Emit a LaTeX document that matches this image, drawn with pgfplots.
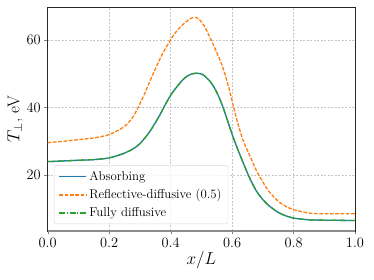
\documentclass[border=0pt]{standalone}
\usepackage{pgfplots}
\pgfplotsset{compat=1.18}
\definecolor{tabblue}{HTML}{1F77B4}
\definecolor{taborange}{HTML}{FF7F0E}
\definecolor{tabgreen}{HTML}{2CA02C}
\pgfplotstableread{
x y
0.00 24.0
0.05 24.2
0.10 24.4
0.15 24.6
0.20 25.1
0.25 26.5
0.28 27.9
0.30 29.3
0.33 32.6
0.36 37.0
0.40 43.6
0.44 48.2
0.465 49.8
0.485 50.1
0.505 49.7
0.53 47.5
0.55 44.5
0.57 40.2
0.59 34.8
0.61 29.6
0.635 23.9
0.66 18.6
0.68 15.2
0.70 12.8
0.72 11.0
0.75 9.0
0.78 7.8
0.80 7.3
0.85 6.8
0.90 6.7
1.00 6.6
}\absorbing
\pgfplotstableread{
x y
0.00 29.6
0.05 30.0
0.10 30.5
0.15 31.0
0.20 32.0
0.25 34.4
0.28 37.6
0.31 43.0
0.34 49.3
0.37 55.2
0.40 60.0
0.42 62.6
0.44 64.5
0.46 66.0
0.475 66.6
0.49 66.3
0.51 64.0
0.53 60.3
0.55 56.3
0.57 51.8
0.585 47.3
0.60 42.0
0.615 36.5
0.635 30.5
0.66 25.3
0.68 21.2
0.70 18.0
0.72 15.2
0.75 12.3
0.78 10.5
0.80 9.8
0.85 8.8
0.90 8.6
1.00 8.6
}\reflective
\begin{document}
\begin{tikzpicture}
\useasboundingbox (-47.7pt,-49pt) rectangle (326.3pt,231pt);
\begin{axis}[
  scale only axis,
  width=307.3pt, height=223.7pt,
  xmin=0, xmax=1, ymin=3.5, ymax=69.6,
  xtick={0,0.2,0.4,0.6,0.8,1.0},
  ytick={20,40,60},
  xticklabel style={/pgf/number format/fixed,/pgf/number format/fixed zerofill,/pgf/number format/precision=1},
  tick label style={font=\fontsize{15}{17}\selectfont},
  tick pos=left, tick align=outside,
  major tick length=3.5pt,
  grid=major,
  grid style={gray!45, line width=0.45pt, dash pattern=on 2pt off 1.5pt},
  axis line style={black!85, line width=0.8pt},
  xlabel={$x/L$}, ylabel={$T_\perp$, eV},
  label style={font=\fontsize{17}{20}\selectfont},
  xlabel style={yshift=3pt},
  ylabel style={yshift=-3pt},
  clip=false,
  legend cell align=left,
  legend style={at={(rel axis cs:0.0205,0.031)}, anchor=south west,
    draw=black!15, rounded corners=2pt, fill=white, fill opacity=0.8, text opacity=1,
    font=\fontsize{12.8}{14}\selectfont, row sep=3.5pt, inner xsep=4.5pt, inner ysep=3.5pt,
    /tikz/every even column/.append style={column sep=6pt}},
  legend image code/.code={\draw[#1] (0pt,0pt) -- (27pt,0pt);},
]
\addplot[draw=tabblue, line width=1.3pt, smooth, tension=0.5, forget plot] table {\absorbing};
\addplot[draw=taborange, line width=1.3pt, smooth, tension=0.5, dash pattern=on 3.7pt off 1.6pt, forget plot] table {\reflective};
\addplot[draw=tabgreen, line width=1.3pt, smooth, tension=0.5, dash pattern=on 6pt off 1.6pt on 1pt off 1.6pt, forget plot] table {\absorbing};
\addlegendimage{draw=tabblue, line width=1.6pt, solid}
\addlegendentry{Absorbing}
\addlegendimage{draw=taborange, line width=1.6pt, dash pattern=on 3.7pt off 1.6pt}
\addlegendentry{Reflective-diffusive (0.5)}
\addlegendimage{draw=tabgreen, line width=1.6pt, dash pattern=on 6pt off 1.6pt on 1pt off 1.6pt}
\addlegendentry{Fully diffusive}
\draw[black!45, line width=1.5pt] (rel axis cs:0,0) -- (rel axis cs:1,0);
\end{axis}
\end{tikzpicture}
\end{document}
